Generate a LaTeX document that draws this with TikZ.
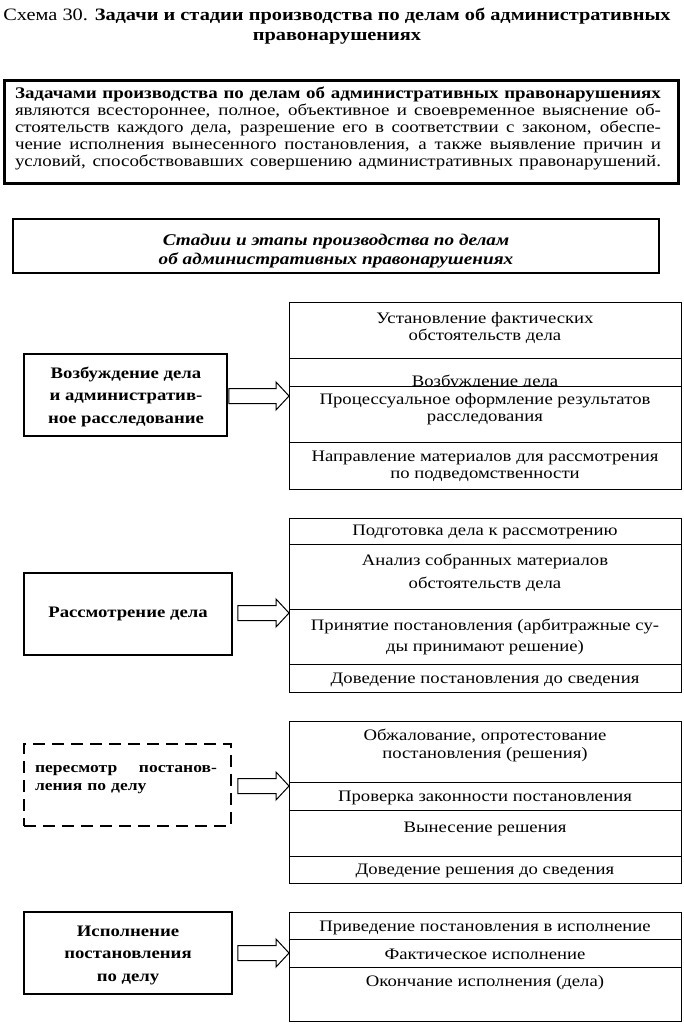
\documentclass[tikz,border=0pt]{standalone}
\usepackage{fontspec}
\setmainfont{Liberation Serif}[FakeStretch=1.17]
\usetikzlibrary{calc}
\newcommand\rfont{\fontsize{16}{17}\selectfont}
\newcommand\lfont{\fontsize{16}{22.5}\selectfont\bfseries}
\newcommand\tfont{\fontsize{16.2}{17.2}\selectfont}
\newcommand\jline[2]{\hbox to #1{\spaceskip=0.25em plus 3em minus 0.05em #2}}
\tikzset{
  lbox/.style={draw, line width=1.8pt, inner sep=0pt},
  rowbox/.style={draw, line width=1pt, fill=white, minimum width=392pt, inner sep=0pt},
  rtext/.style={align=center, font=\rfont, inner sep=0pt},
  ltext/.style={align=center, font=\lfont, inner sep=0pt},
  blockarr/.style={draw, line width=1pt, fill=white, line join=miter},
}
\newcommand\blockarrow[3]{%
  \draw[blockarr] ($(#1.east|-#2)+(#3,-7.5)$) -- ($(#2)+(-13,-7.5)$) -- ($(#2)+(-13,-14)$) -- (#2)
    -- ($(#2)+(-13,14)$) -- ($(#2)+(-13,7.5)$) -- ($(#1.east|-#2)+(#3,7.5)$) -- cycle;}
\begin{document}
\begin{tikzpicture}[x=1pt,y=-1pt]
\useasboundingbox (0,0) rectangle (683,1024);
% title
\node[align=center, inner sep=0pt, font=\fontsize{17.4}{20.5}\selectfont] (title) at (337,26)
  {Схема 30. \textbf{Задачи и стадии производства по делам об административных}\\\textbf{правонарушениях}};
% tasks box
\node[draw, line width=3.5pt, minimum width=674pt, minimum height=103pt, inner sep=0pt] (tasks) at (341.5,132) {};
\node[inner sep=0pt, text width=646pt, font=\tfont] (taskstext) at (338,128.5)
  {\jline{646pt}{\bfseries Задачами производства по делам об административных правонарушениях}\par
   \jline{646pt}{являются всестороннее, полное, объективное и своевременное выяснение об-}\par
   \jline{646pt}{стоятельств каждого дела, разрешение его в соответствии с законом, обеспе-}\par
   \jline{646pt}{чение исполнения вынесенного постановления, а также выявление причин и}\par
   \jline{646pt}{условий, способствовавших совершению административных правонарушений.}};
% stages box
\node[draw, line width=1.8pt, minimum width=646pt, minimum height=54pt, inner sep=0pt] (stages) at (336,246) {};
\node[align=center, inner sep=0pt, font=\fontsize{16.4}{19}\selectfont\bfseries\itshape] (stagestext) at (336,251.5)
  {Стадии и этапы производства по делам\\об административных правонарушениях};

% ---- group 1
\node[lbox, minimum width=203pt, minimum height=82pt] (L1) at (125.5,395) {};
\node[ltext] (L1t) at (126,396.5) {Возбуждение дела\\и административ-\\ное расследование};
\node[rowbox, minimum height=56pt] (R1a) at (485,330) {};
\node[rtext] (T1a) at (485,327.5) {Установление фактических\\обстоятельств дела};
\node[rowbox, minimum height=28pt] (R1b) at (485,372) {};
\node[rtext, anchor=base] (T1b) at (485,386.5) {Возбуждение дела};
\node[rowbox, minimum height=56pt] (R1c) at (485,414) {};
\node[rtext] (T1c) at (485,409.5) {Процессуальное оформление результатов\\расследования};
\node[rowbox, minimum height=47pt] (R1d) at (485,465.5) {};
\node[rtext] (T1d) at (485,466) {Направление материалов для рассмотрения\\по подведомственности};
\coordinate (P1) at (289,396);
\blockarrow{L1}{P1}{1}

% ---- group 2
\node[lbox, minimum width=208pt, minimum height=82pt] (L2) at (128,614) {};
\node[ltext] (L2t) at (128,613.5) {Рассмотрение дела};
\node[rowbox, minimum height=26pt] (R2a) at (485,531) {};
\node[rtext] (T2a) at (485,532) {Подготовка дела к рассмотрению};
\node[rowbox, minimum height=65pt] (R2b) at (485,576.5) {};
\node[rtext, font=\fontsize{16}{23.5}\selectfont] (T2b) at (485,573) {Анализ собранных материалов\\обстоятельств дела};
\node[rowbox, minimum height=55pt] (R2c) at (485,636.5) {};
\node[rtext, font=\fontsize{16}{21.5}\selectfont] (T2c) at (485,637) {Принятие постановления (арбитражные су-\\ды принимают решение)};
\node[rowbox, minimum height=28pt] (R2d) at (485,678) {};
\node[rtext] (T2d) at (485,679.5) {Доведение постановления до сведения};
\coordinate (P2) at (289,613);
\blockarrow{L2}{P2}{5}

% ---- group 3
\node[lbox, dash pattern=on 12pt off 7pt, minimum width=207pt, minimum height=82pt] (L3) at (127.5,785) {};
\node[inner sep=0pt, text width=182pt, font=\fontsize{15}{18}\selectfont\bfseries] (L3t) at (126,780)
  {\jline{182pt}{пересмотр \ \ постанов-}\par ления по делу};
\node[rowbox, minimum height=61pt] (R3a) at (485,751.5) {};
\node[rtext, font=\fontsize{16}{18}\selectfont] (T3a) at (485,745) {Обжалование, опротестование\\постановления (решения)};
\node[rowbox, minimum height=28pt] (R3b) at (485,796) {};
\node[rtext] (T3b) at (485,797.5) {Проверка законности постановления};
\node[rowbox, minimum height=46pt] (R3c) at (485,833) {};
\node[rtext] (T3c) at (485,829) {Вынесение решения};
\node[rowbox, minimum height=27pt] (R3d) at (485,869.5) {};
\node[rtext] (T3d) at (485,870.5) {Доведение решения до сведения};
\coordinate (P3) at (289,786);
\blockarrow{L3}{P3}{6}

% ---- group 4
\node[lbox, minimum width=208pt, minimum height=82pt] (L4) at (128,953) {};
\node[ltext] (L4t) at (128,955) {Исполнение\\постановления\\по делу};
\node[rowbox, minimum height=27pt] (R4a) at (485,925.5) {};
\node[rtext] (T4a) at (485,927.5) {Приведение постановления в исполнение};
\node[rowbox, minimum height=28pt] (R4b) at (485,953) {};
\node[rtext] (T4b) at (485,954.5) {Фактическое исполнение};
\node[rowbox, minimum height=54pt] (R4c) at (485,994) {};
\node[rtext] (T4c) at (485,982.5) {Окончание исполнения (дела)};
\coordinate (P4) at (289,953);
\blockarrow{L4}{P4}{5}
\end{tikzpicture}
\end{document}
